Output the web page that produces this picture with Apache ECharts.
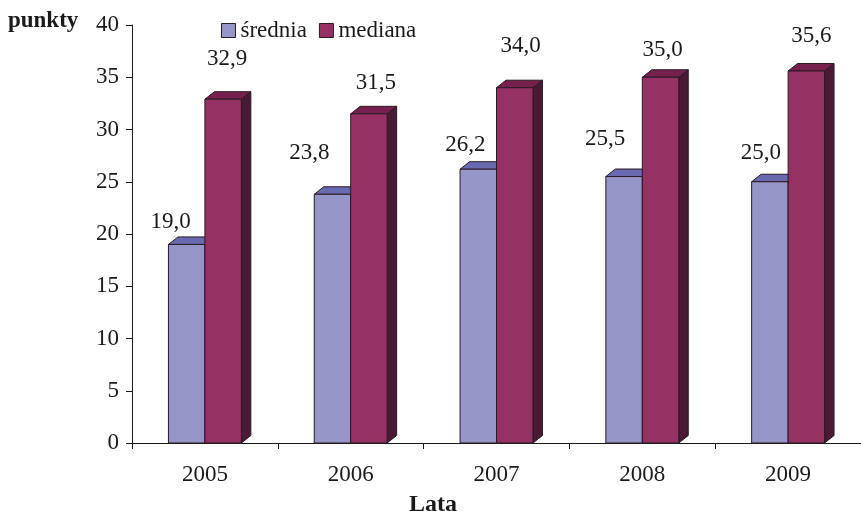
<!DOCTYPE html>
<html>
<head>
<meta charset="utf-8">
<script src="https://cdn.jsdelivr.net/npm/echarts@6/dist/echarts.min.js"></script>
<style>
  html, body { margin: 0; padding: 0; background: #fff; }
  #chart { width: 861px; height: 517px; }
</style>
</head>
<body>
<div id="chart"></div>
<script>
// Years on the category axis
const years = ['2005', '2006', '2007', '2008', '2009'];
// Mean and median score (points)
const srednia = [19.0, 23.8, 26.2, 25.5, 25.0];
const mediana = [32.9, 31.5, 34.0, 35.0, 35.6];
// Value axis ticks
const yMin = 0, yMax = 40, yStep = 5;

// Hand-placed label shifts [dx, dy] in px relative to the top-centre of each bar front
const sredniaLabelShift = [[-16, -22], [-23, -41], [-13, -24], [-19, -38], [-9, -29]];
const medianaLabelShift = [[4, -40], [7, -31], [6, -42], [2, -27], [5, -35]];

const SERIF = '"Liberation Serif", "DejaVu Serif", serif';
const FS = 23;
const DEPTH_X = 9.5, DEPTH_Y = 7.5;
const BAR_FRAC = 0.25;

const palette = {
  srednia: { front: '#9595c8', top: '#6a6ab0', side: '#4f4f8a' },
  mediana: { front: '#963163', top: '#75204d', side: '#4a1a35' }
};

function fmt(v) { return v.toFixed(1).replace('.', ','); }

function makeRenderer(slot, colors, shifts) {
  return function (params, api) {
    const cat = api.value(0), val = api.value(1);
    const base = api.coord([cat, 0]);
    const top = api.coord([cat, val]);
    const band = api.size([1, 0])[0];
    const w = band * BAR_FRAC;
    const x0 = base[0] - w + slot * w;
    const x1 = x0 + w;
    const y0 = base[1], yt = top[1];
    const stroke = { stroke: '#2a1a22', lineWidth: 1 };
    const sh = shifts[params.dataIndex];
    return {
      type: 'group',
      children: [
        { type: 'polygon', shape: { points: [[x1, yt], [x1 + DEPTH_X, yt - DEPTH_Y], [x1 + DEPTH_X, y0 - DEPTH_Y], [x1, y0]] },
          style: Object.assign({ fill: colors.side }, stroke) },
        { type: 'polygon', shape: { points: [[x0, yt], [x0 + DEPTH_X, yt - DEPTH_Y], [x1 + DEPTH_X, yt - DEPTH_Y], [x1, yt]] },
          style: Object.assign({ fill: colors.top }, stroke) },
        { type: 'rect', shape: { x: x0, y: yt, width: w, height: y0 - yt },
          style: Object.assign({ fill: colors.front }, stroke) },
        { type: 'text', x: (x0 + x1) / 2 + sh[0], y: yt + sh[1],
          style: { text: fmt(val), fill: '#1a1a1a', font: FS + 'px ' + SERIF, align: 'center', verticalAlign: 'middle' } }
      ]
    };
  };
}

const chart = echarts.init(document.getElementById('chart'), null, { renderer: 'canvas' });
chart.setOption({
  animation: false,
  backgroundColor: '#fff',
  grid: { left: 132, top: 25, width: 735, height: 418, containLabel: false },
  legend: {
    left: 216, top: 14,
    icon: 'rect', itemWidth: 14, itemHeight: 14, itemGap: 12, itemTextGap: 8,
    itemStyle: { borderColor: '#2a1a22', borderWidth: 1 },
    textStyle: { fontFamily: SERIF, fontSize: FS, color: '#1a1a1a' },
    data: ['średnia', 'mediana']
  },
  xAxis: {
    type: 'category', data: years, boundaryGap: true,
    axisLine: { lineStyle: { color: '#1a1a1a', width: 1 } },
    axisTick: { show: true, length: 6, lineStyle: { color: '#1a1a1a' } },
    axisLabel: { fontFamily: SERIF, fontSize: FS, color: '#1a1a1a', margin: 20 }
  },
  yAxis: {
    type: 'value', min: yMin, max: yMax, interval: yStep,
    splitLine: { show: false },
    axisLine: { show: true, lineStyle: { color: '#1a1a1a', width: 1 } },
    axisTick: { show: true, length: 6, lineStyle: { color: '#1a1a1a' } },
    axisLabel: { fontFamily: SERIF, fontSize: FS, color: '#1a1a1a', margin: 13 }
  },
  graphic: [
    { type: 'text', left: 8, top: 10,
      style: { text: 'punkty', font: 'bold 23px ' + SERIF, fill: '#1a1a1a' } },
    { type: 'text', left: 409, top: 493,
      style: { text: 'Lata', font: 'bold 24px ' + SERIF, fill: '#1a1a1a' } }
  ],
  series: [
    { name: 'średnia', type: 'custom', itemStyle: { color: palette.srednia.front },
      renderItem: makeRenderer(0, palette.srednia, sredniaLabelShift),
      data: srednia.map((v, i) => [i, v]) },
    { name: 'mediana', type: 'custom', itemStyle: { color: palette.mediana.front },
      renderItem: makeRenderer(1, palette.mediana, medianaLabelShift),
      data: mediana.map((v, i) => [i, v]) }
  ]
});
</script>
</body>
</html>
